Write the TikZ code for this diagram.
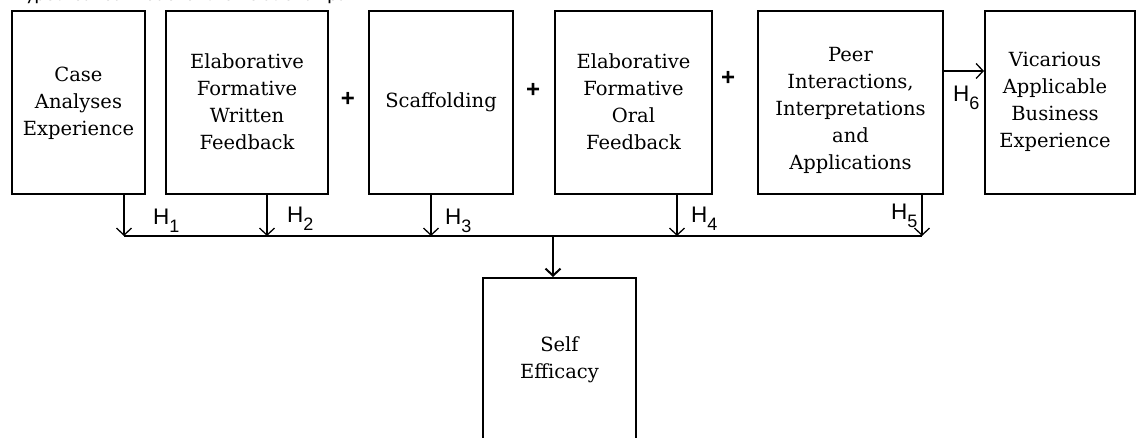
\documentclass[tikz,border=0pt]{standalone}
\usepackage{fontspec}
\setmainfont{DejaVu Serif}
\setsansfont{Liberation Sans}
\newfontfamily\capfont{Carlito}
\usetikzlibrary{arrows.meta}
\begin{document}
\begin{tikzpicture}[x=1pt,y=-1pt,
  box/.style={draw, line width=2pt, inner sep=0pt},
  boxtext/.style={align=center, font=\fontsize{19.5}{27}\selectfont, inner sep=0pt, text=black},
  link/.style={line width=1.3pt, -{Straight Barb[length=7pt,width=15pt]}},
  hlab/.style={font=\sffamily\fontsize{22.5}{22.5}\selectfont, inner sep=0pt, anchor=base west},
  plus/.style={font=\sffamily\bfseries\fontsize{24}{24}\selectfont, inner sep=0pt}
]
\useasboundingbox (0,0) rectangle (1137,438);
\clip (0,0) rectangle (1137,438);
\newcommand\hsub[1]{H\raisebox{-8pt}{\fontsize{18}{18}\selectfont #1}}

% cropped title line (only its lowest part shows, as in the reference)
\node[font=\capfont\fontsize{20}{20}\selectfont, anchor=base west, inner sep=0pt] (title) at (13,1) {Hypothesized Model of the Relationships};

% boxes
\node[box, minimum width=133, minimum height=183] (b1) at (78.5,102.5) {};
\node[box, minimum width=162, minimum height=183] (b2) at (247,102.5) {};
\node[box, minimum width=144, minimum height=183] (b3) at (441,102.5) {};
\node[box, minimum width=157, minimum height=183] (b4) at (633.5,102.5) {};
\node[box, minimum width=185, minimum height=183] (b5) at (850.5,102.5) {};
\node[box, minimum width=150, minimum height=183] (b6) at (1060,102.5) {};
\node[box, minimum width=153, minimum height=200] (b7) at (559.5,378) {};

% texts
\node[boxtext] (t1) at (78.5,103) {Case\\Analyses\\Experience};
\node[boxtext] (t2) at (247,102) {Elaborative\\Formative\\Written\\Feedback};
\node[boxtext] (t3) at (441,102) {Scaffolding};
\node[boxtext] (t4) at (633.5,102) {Elaborative\\Formative\\Oral\\Feedback};
\node[boxtext] (t5) at (850.5,110) {Peer\\Interactions,\\Interpretations\\and\\Applications};
\node[boxtext] (t6) at (1055,102) {Vicarious\\Applicable\\Business\\Experience};
\node[boxtext] (t7) at (559.5,360) {Self\\Efficacy};

% plus signs
\node[plus] (p1) at (348,99) {+};
\node[plus] (p2) at (533,90) {+};
\node[plus] (p3) at (728,78) {+};

% bus coordinates
\coordinate (a1) at (124,236);
\coordinate (a2) at (267,236);
\coordinate (a3) at (431,236);
\coordinate (a4) at (677,236);
\coordinate (a5) at (922,236);
\coordinate (m) at (553,236);
\coordinate (c6) at (0,71);

\draw[link] (a1 |- b1.south) -- (a1);
\draw[link] (a2 |- b2.south) -- (a2);
\draw[link] (a3 |- b3.south) -- (a3);
\draw[link] (a4 |- b4.south) -- (a4);
\draw[link] (a5 |- b5.south) -- (a5);
\draw[line width=1.3pt] (a1) -- (a5);
\draw[link, line width=2pt] (m) -- (m |- b7.north);
\draw[link] (b5.east |- c6) -- (b6.west |- c6);

% hypothesis labels
\node[hlab] (h1) at (153,225) {\hsub{1}};
\node[hlab] (h2) at (287,223) {\hsub{2}};
\node[hlab] (h3) at (445,225) {\hsub{3}};
\node[hlab] (h4) at (691,223) {\hsub{4}};
\node[hlab] (h5) at (891,220) {\hsub{5}};
\node[hlab] (h6) at (953,102) {\hsub{6}};
\end{tikzpicture}
\end{document}
